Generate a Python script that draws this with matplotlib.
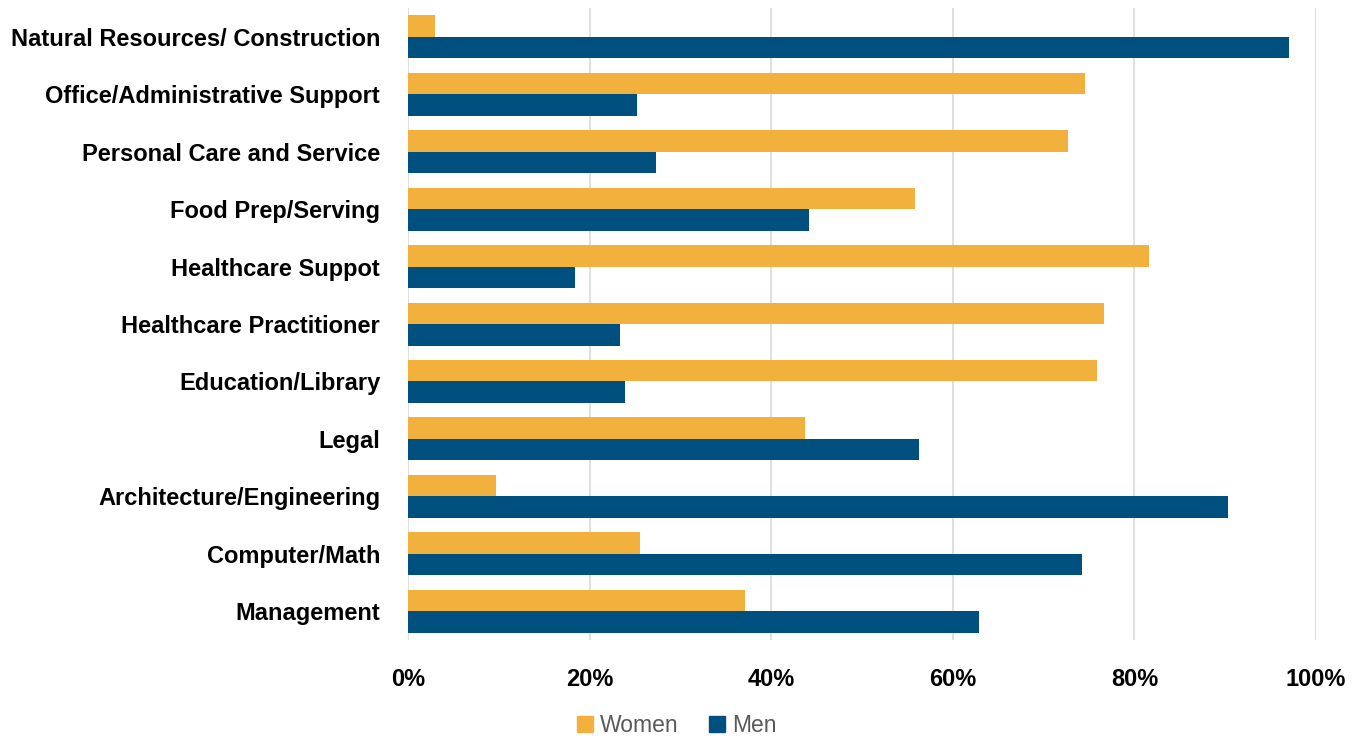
import numpy as np
import matplotlib
matplotlib.use('Agg')
import matplotlib.pyplot as plt
from matplotlib.patches import Patch

plt.rcParams['font.family'] = ['Liberation Sans', 'DejaVu Sans']

# 职业类别（自上而下）
categories = ['Natural Resources/ Construction', 'Office/Administrative Support',
              'Personal Care and Service', 'Food Prep/Serving', 'Healthcare Suppot',
              'Healthcare Practitioner', 'Education/Library', 'Legal',
              'Architecture/Engineering', 'Computer/Math', 'Management']
women = [3, 74.6, 72.7, 55.8, 81.6, 76.7, 75.9, 43.7, 9.7, 25.6, 37.1]
men = [97, 25.2, 27.3, 44.2, 18.4, 23.3, 23.9, 56.3, 90.3, 74.2, 62.9]
xticks = [0, 20, 40, 60, 80, 100]

women_color = '#F2B13C'
men_color = '#00507F'

fig = plt.figure(figsize=(13.59, 7.38), dpi=100)
ax = fig.add_axes([0.3002, 0.1328, 0.6682, 0.8562])

y = np.arange(len(categories))
h = 0.375
ax.barh(y - h / 2, women, height=h, color=women_color, label='Women', zorder=3)
ax.barh(y + h / 2, men, height=h, color=men_color, label='Men', zorder=3)

ax.set_ylim(len(categories) - 0.5, -0.5)
ax.set_xlim(0, 100)
ax.set_yticks(y)
ax.set_yticklabels(categories, fontsize=17, fontweight='bold')
ax.set_xticks(xticks)
ax.set_xticklabels([f'{t}%' for t in xticks], fontsize=17, fontweight='bold')
ax.tick_params(axis='y', length=0, pad=20)
ax.tick_params(axis='x', length=0, pad=20)

# 网格线
ax.grid(axis='x', color='#D9D9D9', linewidth=1.2, zorder=0)
for s in ax.spines.values():
    s.set_visible(False)

handles = [Patch(color=women_color, label='Women'), Patch(color=men_color, label='Men')]
leg = fig.legend(handles=handles, loc='center', bbox_to_anchor=(0.498, 0.017),
                 ncol=2, frameon=False, fontsize=16.5, handlelength=0.7, handleheight=0.7,
                 handletextpad=0.3, columnspacing=1.3)
for t in leg.get_texts():
    t.set_color('#595959')

fig.savefig('out.png', dpi=100)
